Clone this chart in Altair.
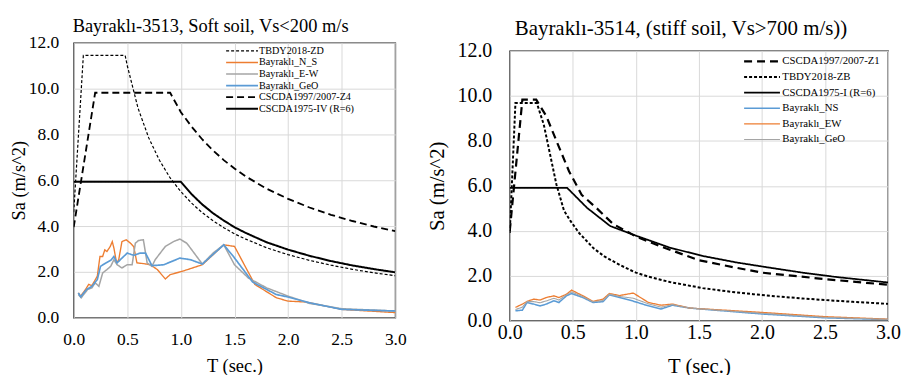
import altair as alt
import pandas as pd

# ---------------- Left panel: Bayraklı-3513 ----------------
L_ZD_T = [0.0, 0.09, 0.48, 0.5, 0.6, 0.7, 0.8, 0.9, 1.0, 1.1, 1.2, 1.3, 1.4, 1.5, 1.6, 1.8, 2.0, 2.2, 2.4, 2.6, 2.8, 3.0]
L_ZD_SA = [4.6, 11.45, 11.45, 11.0, 9.15, 7.85, 6.87, 6.1, 5.5, 5.0, 4.58, 4.23, 3.93, 3.66, 3.44, 3.05, 2.75, 2.5, 2.29, 2.11, 1.96, 1.83]

L_Z4_T = [0.0, 0.2, 0.9, 1.0, 1.1, 1.2, 1.3, 1.4, 1.5, 1.6, 1.8, 2.0, 2.2, 2.4, 2.6, 2.8, 3.0]
L_Z4_SA = [3.95, 9.82, 9.82, 8.97, 8.34, 7.78, 7.3, 6.88, 6.51, 6.18, 5.63, 5.19, 4.81, 4.49, 4.22, 3.98, 3.78]

L_IV_T = [0.0, 1.0, 1.1, 1.2, 1.3, 1.4, 1.5, 1.6, 1.8, 2.0, 2.2, 2.4, 2.6, 2.8, 3.0]
L_IV_SA = [5.93, 5.93, 5.39, 4.94, 4.56, 4.24, 3.95, 3.71, 3.29, 2.97, 2.70, 2.47, 2.28, 2.12, 1.98]

L_NS_T = [0.043, 0.065, 0.11, 0.14, 0.17, 0.22, 0.245, 0.27, 0.29, 0.31, 0.34, 0.36, 0.375, 0.40, 0.42, 0.45, 0.49, 0.53, 0.56, 0.59, 0.65, 0.715, 0.78, 0.855, 0.90, 1.01, 1.2, 1.4, 1.5, 1.69, 1.89, 2.0, 2.17, 2.5, 3.0]
L_NS_SA = [1.08, 0.94, 1.23, 1.45, 1.40, 1.81, 2.67, 2.67, 2.96, 2.89, 3.1, 3.32, 3.04, 2.39, 2.53, 3.32, 3.40, 3.25, 3.1, 2.39, 2.36, 2.31, 2.1, 1.69, 1.88, 2.02, 2.31, 3.18, 3.11, 1.45, 0.87, 0.72, 0.68, 0.36, 0.22]

L_EW_T = [0.043, 0.07, 0.13, 0.17, 0.2, 0.235, 0.27, 0.31, 0.345, 0.375, 0.405, 0.45, 0.5, 0.545, 0.575, 0.605, 0.65, 0.685, 0.73, 0.76, 0.855, 0.93, 0.99, 1.055, 1.2, 1.3, 1.4, 1.5, 1.63, 1.8, 2.0, 2.2, 2.5, 3.0]
L_EW_SA = [1.01, 0.87, 1.23, 1.30, 1.52, 1.37, 1.95, 2.1, 2.24, 2.53, 2.31, 2.17, 2.31, 2.31, 3.25, 3.37, 3.40, 2.39, 2.24, 2.53, 3.11, 3.32, 3.43, 3.25, 2.34, 2.82, 3.18, 2.31, 1.73, 1.30, 0.94, 0.62, 0.39, 0.29]

L_GEO_T = [0.043, 0.065, 0.12, 0.17, 0.22, 0.25, 0.30, 0.345, 0.375, 0.405, 0.45, 0.5, 0.56, 0.62, 0.67, 0.73, 0.84, 0.99, 1.09, 1.2, 1.4, 1.49, 1.67, 1.89, 2.0, 2.2, 2.5, 3.0]
L_GEO_SA = [1.08, 0.91, 1.23, 1.37, 1.66, 2.24, 2.39, 2.5, 2.67, 2.39, 2.6, 2.82, 2.72, 2.82, 2.82, 2.27, 2.31, 2.6, 2.53, 2.34, 3.18, 2.67, 1.55, 1.01, 0.9, 0.65, 0.36, 0.29]

L_NAMES = ["TBDY2018-ZD", "Bayraklı_N_S", "Bayraklı_E-W", "Bayraklı_GeO", "CSCDA1997/2007-Z4", "CSCDA1975-IV (R=6)"]
L_COLORS = ["#000000", "#ED7D31", "#A5A5A5", "#5B9BD5", "#000000", "#000000"]
L_DASHES = [[3, 2], [1, 0], [1, 0], [1, 0], [7, 4], [1, 0]]
L_WIDTHS = [1.2, 2, 2, 2, 2, 2.2]

# ---------------- Right panel: Bayraklı-3514 ----------------
R_Z1_T = [0.0, 0.1, 0.21, 0.29, 0.37, 0.47, 0.57, 0.69, 0.82, 1.0, 1.2, 1.5, 1.8, 2.0, 2.5, 3.0]
R_Z1_SA = [3.99, 9.83, 9.83, 9.1, 8.0, 6.65, 5.6, 5.0, 4.3, 3.75, 3.3, 2.69, 2.35, 2.14, 1.85, 1.6]

R_ZB_T = [0.0, 0.045, 0.215, 0.27, 0.32, 0.37, 0.43, 0.48, 0.55, 0.665, 0.75, 0.876, 1.0, 1.1, 1.27, 1.53, 1.75, 1.93, 2.1, 2.32, 2.5, 2.72, 3.0]
R_ZB_SA = [3.9, 9.68, 9.68, 8.72, 7.39, 6.06, 4.9, 4.45, 3.9, 3.22, 2.86, 2.47, 2.14, 1.96, 1.72, 1.45, 1.29, 1.18, 1.09, 0.99, 0.92, 0.84, 0.75]

R_I_T = [0.0, 0.455, 0.613, 0.797, 1.007, 1.27, 1.53, 1.80, 2.06, 2.32, 2.58, 3.0]
R_I_SA = [5.91, 5.91, 5.02, 4.21, 3.77, 3.25, 2.88, 2.59, 2.36, 2.14, 1.95, 1.70]

R_REC_T = [0.045, 0.1, 0.137, 0.19, 0.24, 0.29, 0.35, 0.39, 0.45, 0.49, 0.58, 0.66, 0.74, 0.79, 0.87, 0.98, 1.1, 1.2, 1.29, 1.43, 2.0, 2.5, 3.0]
R_NS_SA = [0.44, 0.47, 0.81, 0.74, 0.66, 0.74, 0.89, 0.81, 1.11, 1.21, 1.03, 0.81, 0.85, 1.15, 1.03, 0.87, 0.66, 0.52, 0.69, 0.56, 0.30, 0.13, 0.05]
R_EW_SA = [0.59, 0.74, 0.86, 0.96, 0.92, 1.03, 1.11, 1.03, 1.18, 1.36, 1.11, 0.86, 0.96, 1.21, 1.12, 1.23, 0.81, 0.69, 0.74, 0.56, 0.37, 0.18, 0.07]
R_GEO_SA = [0.50, 0.60, 0.85, 0.85, 0.80, 0.88, 1.00, 0.92, 1.15, 1.28, 1.07, 0.84, 0.90, 1.18, 1.08, 1.00, 0.75, 0.60, 0.72, 0.56, 0.33, 0.15, 0.06]

R_NAMES = ["CSCDA1997/2007-Z1", "TBDY2018-ZB", "CSCDA1975-I (R=6)", "Bayraklı_NS", "Bayraklı_EW", "Bayraklı_GeO"]
R_COLORS = ["#000000", "#000000", "#000000", "#5B9BD5", "#ED7D31", "#A5A5A5"]
R_DASHES = [[8, 5], [3, 2], [1, 0], [1, 0], [1, 0], [1, 0]]
R_WIDTHS = [2.2, 1.1, 3, 2, 2, 2]

X_TICKS = [0.0, 0.5, 1.0, 1.5, 2.0, 2.5, 3.0]
Y_TICKS = [0, 2, 4, 6, 8, 10, 12]

FONT = "'Liberation Serif', 'Times New Roman', 'DejaVu Serif', serif"


def to_long(series):
    rows = []
    for name, ts, vs in series:
        for i, (t, v) in enumerate(zip(ts, vs)):
            rows.append({"series": name, "T": t, "Sa": v, "i": i})
    return pd.DataFrame(rows)


left_df = to_long([
    ("Bayraklı_N_S", L_NS_T, L_NS_SA),
    ("Bayraklı_E-W", L_EW_T, L_EW_SA),
    ("Bayraklı_GeO", L_GEO_T, L_GEO_SA),
    ("TBDY2018-ZD", L_ZD_T, L_ZD_SA),
    ("CSCDA1997/2007-Z4", L_Z4_T, L_Z4_SA),
    ("CSCDA1975-IV (R=6)", L_IV_T, L_IV_SA),
])

right_df = to_long([
    ("Bayraklı_NS", R_REC_T, R_NS_SA),
    ("Bayraklı_EW", R_REC_T, R_EW_SA),
    ("Bayraklı_GeO", R_REC_T, R_GEO_SA),
    ("TBDY2018-ZB", R_ZB_T, R_ZB_SA),
    ("CSCDA1997/2007-Z1", R_Z1_T, R_Z1_SA),
    ("CSCDA1975-I (R=6)", R_I_T, R_I_SA),
])


def panel(df, names, colors, dashes, widths, title, w, h, fs, tfs, title_fs,
          title_dx, title_offset, legx, legy, leg_fs, half_len, leg_rowpad, lab_off,
          ylab_pad, ytitle_pad, xlab_pad, xtitle_pad, xtitle, xtitle_lh):
    # symbol path is drawn at scale sqrt(size)/2 = 2, so half_len/2 units per side
    leg = alt.Legend(
        title=None, orient="none", legendX=legx, legendY=legy,
        symbolType=f"M-{half_len / 2},0H{half_len / 2}", symbolSize=16,
        labelFont=FONT, labelFontSize=leg_fs, labelColor="black",
        rowPadding=leg_rowpad, padding=0, labelOffset=lab_off,
        labelLimit=300,
    )
    return alt.Chart(df).mark_line(clip=True).encode(
        x=alt.X("T:Q", scale=alt.Scale(domain=[0, 3], nice=False),
                axis=alt.Axis(values=X_TICKS, format=".1f", title=xtitle,
                              labelFont=FONT, labelFontSize=fs, labelColor="black",
                              titleFont=FONT, titleFontSize=tfs, titleFontWeight="normal",
                              titleColor="black", ticks=False, domain=False,
                              gridColor="#d9d9d9", gridWidth=1,
                              labelPadding=xlab_pad, titlePadding=xtitle_pad,
                              titleLineHeight=xtitle_lh, labelFlush=False)),
        y=alt.Y("Sa:Q", scale=alt.Scale(domain=[0, 12], nice=False),
                axis=alt.Axis(values=Y_TICKS, format=".1f", title="Sa (m/s^2)",
                              labelFont=FONT, labelFontSize=fs, labelColor="black",
                              titleFont=FONT, titleFontSize=tfs, titleFontWeight="normal",
                              titleColor="black", ticks=False, domain=False,
                              gridColor="#d9d9d9", gridWidth=1,
                              labelPadding=ylab_pad, titlePadding=ytitle_pad,
                              labelFlush=False)),
        color=alt.Color("series:N", scale=alt.Scale(domain=names, range=colors), legend=leg),
        strokeDash=alt.StrokeDash("series:N", scale=alt.Scale(domain=names, range=dashes), legend=leg),
        strokeWidth=alt.StrokeWidth("series:N", scale=alt.Scale(domain=names, range=widths), legend=leg),
        order=alt.Order("i:Q"),
    ).properties(
        width=w, height=h,
        title=alt.TitleParams(title, font=FONT, fontSize=title_fs, fontWeight="normal",
                              color="black", anchor="middle", dx=title_dx, offset=title_offset),
    )


left = panel(left_df, L_NAMES, L_COLORS, L_DASHES, L_WIDTHS,
             "Bayraklı-3513, Soft soil, Vs<200 m/s", 323, 276, 17.5, 18.5, 18.5,
             -24, -1.5, 164, 3, 10.2, 16, 0.6, 12, 15, 0, 13, 9,
             ["T (sec.)", " "], 9)
right = panel(right_df, R_NAMES, R_COLORS, R_DASHES, R_WIDTHS,
              "Bayraklı-3514, (stiff soil, Vs>700 m/s))", 380, 271, 20, 20.8, 21,
              -18, 2.25, 248, 5, 10.8, 18, 3.7, 15, 18, 10, 2, 14,
              "T (sec.)", 21)

chart = alt.hconcat(left, right, spacing=18, center=True).resolve_scale(
    color="independent", strokeDash="independent", strokeWidth="independent"
).resolve_legend(
    color="independent", strokeDash="independent", strokeWidth="independent"
).properties(
    padding={"left": 0, "top": 7, "right": 0, "bottom": 0}
).configure(
    background="white", font=FONT
).configure_view(
    stroke="black", strokeWidth=1.3
).configure_axis(
    labelFont=FONT, titleFont=FONT
).configure_title(
    font=FONT
)

chart.save("out.html", embed_options={"renderer": "svg", "actions": False})
